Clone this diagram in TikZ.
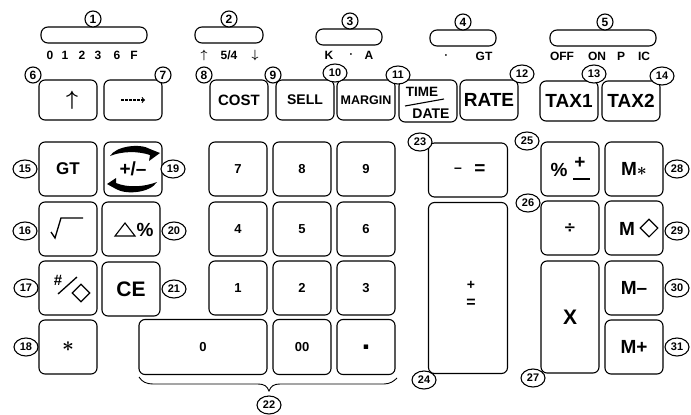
\documentclass[tikz,border=0pt]{standalone}
\usepackage{amssymb}
\usepackage{fontspec}
\setmainfont{Liberation Sans}
\newfontfamily\symfont{DejaVu Sans}
\usetikzlibrary{shapes.geometric}
\tikzset{
	key/.style={draw, line width=1.1pt, rounded corners=6pt, minimum width=58pt, minimum height=54pt, inner sep=0pt, font=\bfseries\fontsize{13}{13}\selectfont},
	keysm/.style={key, minimum height=40pt},
	keybig/.style={key, font=\boldmath\bfseries\fontsize{19}{19}\selectfont},
	slot/.style={draw, line width=1.1pt, rounded corners=7pt, minimum height=16pt, inner sep=0pt},
	tag/.style={draw, line width=1.1pt, ellipse, fill=white, minimum width=24pt, minimum height=18pt, inner sep=0pt, font=\bfseries\fontsize{11}{11}\selectfont},
	tagsm/.style={tag, minimum width=16pt, minimum height=16pt, font=\bfseries\fontsize{12}{12}\selectfont},
	legend/.style={inner sep=0pt, font=\boldmath\bfseries\fontsize{12}{12}\selectfont},
}
\begin{document}
\begin{tikzpicture}[x=1pt, y=-1pt]
\useasboundingbox (0,0) rectangle (691,415);
% switches
\node[slot, minimum width=106pt] (sw1) at (94,35) {};
\node[slot, minimum width=68pt] (sw2) at (229,35) {};
\node[slot, minimum width=66pt] (sw3) at (349,37) {};
\node[slot, minimum width=66pt] (sw4) at (463,38) {};
\node[slot, minimum width=106pt] (sw5) at (603,38) {};
\foreach \x/\lab [count=\i] in {50/0,65/1,82/2,98/3,117/6,134/F} \node[legend] (a\i) at (\x,55) {\lab};
\foreach \x/\lab [count=\i] in {204/$\uparrow$,229/{5/4},255/$\downarrow$} \node[legend] (b\i) at (\x,55) {\lab};
\foreach \x/\lab [count=\i] in {329/K,351/$\cdot$,369/A} \node[legend] (c\i) at (\x,55) {\lab};
\node[legend] (d1) at (446,56) {$\cdot$};
\node[legend] (d2) at (484,56) {GT};
\foreach \x/\lab [count=\i] in {562/OFF,597/ON,621/P,644/IC} \node[legend] (e\i) at (\x,56) {\lab};
% top row
\node[keysm] (up) at (68,100) {};
\node[legend, font=\boldmath\fontsize{22}{22}\selectfont] (upt) at (72,100) {$\uparrow$};
\node[keysm] (right) at (133,100) {};
\coordinate (arra) at (121,100);
\coordinate (arrb) at (145,100);
\draw[line width=1.2pt, dash pattern=on 2.5pt off 1.5pt, ->] (arra) -- (arrb);
\node[keysm, font=\bfseries\fontsize{15}{15}\selectfont] (cost) at (239,100) {COST};
\node[keysm, font=\bfseries\fontsize{14}{14}\selectfont] (sell) at (305,100) {SELL};
\node[keysm, font=\bfseries\fontsize{12.5}{12.5}\selectfont] (margin) at (366,100) {MARGIN};
\node[keysm, minimum height=42pt] (time) at (428,101) {};
\node[keybig, keysm, font=\bfseries\fontsize{19}{19}\selectfont] (rate) at (489,100) {RATE};
\node[keybig, keysm, font=\bfseries\fontsize{19}{19}\selectfont] (tax1) at (569,101) {TAX1};
\node[keybig, keysm, font=\bfseries\fontsize{19}{19}\selectfont] (tax2) at (631,101) {TAX2};
\node[legend, font=\bfseries\fontsize{13.5}{13.5}\selectfont] (timet) at (422,92) {TIME};
\node[legend, font=\bfseries\fontsize{14}{14}\selectfont] (datet) at (431,114) {DATE};
\draw[line width=1.1pt] (405,106) -- (444,99);
% left block
\node[key, font=\bfseries\fontsize{17}{17}\selectfont] (gt) at (68,169) {GT};
\node[key, font=\bfseries\fontsize{19}{19}\selectfont] (sign) at (133,169) {+/--};
\node[key] (root) at (68,229) {};
\node[key] (delta) at (131,229) {};
\node[key] (hash) at (68,288) {};
\node[key, font=\bfseries\fontsize{21}{21}\selectfont] (ce) at (131,289) {CE};
\node[key, font=\boldmath\fontsize{20}{20}\selectfont] (star) at (68,347) {$\ast$};
% sign arrows
\fill (110,156) .. controls (116,146) and (140,143) .. (150,149) -- (160,153) -- (149,161) -- (150,155) .. controls (138,151) and (122,151) .. (110,156);
\fill (157,182) .. controls (150,193) and (126,195) .. (116,189) -- (107,184) -- (116,178) -- (116,183) .. controls (128,188) and (144,187) .. (157,182);
% root sign
\draw[line width=1.3pt] (51,232) -- (55,238) -- (61,218) -- (83,218);
% delta
\draw[line width=1.1pt] (115,236) -- (125,223) -- (135,236) -- cycle;
\node[legend, font=\bfseries\fontsize{19}{19}\selectfont] (pct) at (145,230) {\%};
% hash
\node[legend, font=\bfseries\fontsize{15}{15}\selectfont] (hasht) at (58,280) {\#};
\draw[line width=1.3pt] (77,277) -- (58,294);
\node[draw, line width=1.1pt, diamond, minimum width=18pt, minimum height=18pt, inner sep=0pt] (hashd) at (81,293) {};
% number pad
\foreach \n/\x/\y in {7/238/169,8/302/169,9/366/169,4/238/229,5/302/229,6/366/229,1/238/288,2/302/288,3/366/288} \node[key] (n\n) at (\x,\y) {\n};
\node[key, minimum width=128pt, minimum height=55pt] (n0) at (203,347) {0};
\node[key, minimum height=55pt] (n00) at (302,347) {00};
\node[key, minimum height=55pt] (ndot) at (366,347) {\fontsize{6}{6}\selectfont$\blacksquare$};
% right block
\node[key, minimum width=79pt] (minus) at (468,170) {};
\node[legend, font=\bfseries\fontsize{14}{14}\selectfont] (minust) at (458,170) {--};
\node[legend, font=\bfseries\fontsize{19}{19}\selectfont] (eqa) at (480,170) {=};
\node[key, minimum width=79pt, minimum height=171pt] (plus) at (468,288) {};
\node[legend, font=\bfseries\fontsize{14}{14}\selectfont] (plust) at (471,285) {+};
\node[legend, font=\bfseries\fontsize{16}{16}\selectfont] (eqb) at (471,303) {=};
\node[key] (perc) at (570,169) {};
\node[key] (div) at (570,228) {\fontsize{15}{15}\selectfont\symfont ÷};
\node[key, minimum height=112pt, font=\bfseries\fontsize{21}{21}\selectfont] (mul) at (570,317) {X};
\node[keybig] (mstar) at (634,169) {M$\ast$};
\node[keybig] (mdia) at (634,228) {};
\node[keybig] (mminus) at (634,288) {M--};
\node[keybig] (mplus) at (634,347) {M+};
\node[legend, font=\bfseries\fontsize{19}{19}\selectfont] (pctb) at (559,170) {\%};
\node[legend, font=\bfseries\fontsize{19}{19}\selectfont] (pm) at (580,163) {+};
\draw[line width=1.4pt] (573,179) -- (590,179);
\node[legend, font=\bfseries\fontsize{19}{19}\selectfont] (mdiat) at (627,229) {M};
\node[draw, line width=1.1pt, diamond, minimum width=18pt, minimum height=18pt, inner sep=0pt] (mdiad) at (649,228) {};
% brace
\draw[line width=.9pt] (139,377) .. controls (142,382) and (147,384) .. (153,384) -- (258,384) .. controls (264,384) and (267,386) .. (269,391) .. controls (271,386) and (274,384) .. (280,384) -- (384,384) .. controls (390,384) and (394,381) .. (397,378);
% number tags
\foreach \x/\y [count=\i] in {93/19,229/19,350/21,463/22,605/22,33/75,163/75,204/75,273/75} \node[tagsm] (t\i) at (\x,\y) {\i};
\foreach \x/\y [count=\i from 10] in {335/73,398/75,522/74,594/74,662/76,25/169,25/231,26/288,26/347,173/169,174/231,174/289,269/405,420/142,424/380,527/141,528/203,533/378,677/169,677/231,677/288,677/347} \node[tag] (t\i) at (\x,\y) {\i};
\end{tikzpicture}
\end{document}
